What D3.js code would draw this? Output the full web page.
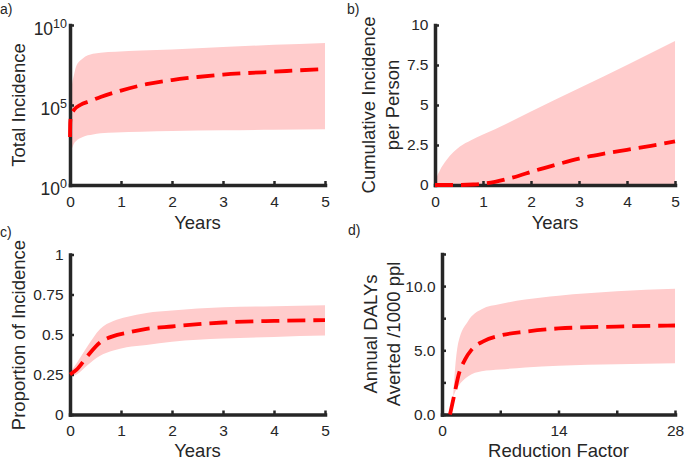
<!DOCTYPE html>
<html>
<head>
<meta charset="utf-8">
<script src="https://cdn.jsdelivr.net/npm/d3@7"></script>
<style>
  html, body { margin: 0; padding: 0; background: #fff; }
  svg { display: block; font-family: "Liberation Sans", Arial, sans-serif; }
</style>
</head>
<body>
<svg id="chart" width="685" height="462"></svg>
<script>
// ---------- DATA ----------
// Panel a: Total incidence (log10 values read from a log axis)
const aBandYears   = [0, 0.04, 0.08, 0.12, 0.25, 0.45, 0.6, 0.9, 1.4, 2, 3, 4, 5];
const aUpperLog10  = [5.2, 6.3, 6.9, 7.4, 7.9, 8.2, 8.27, 8.33, 8.4, 8.47, 8.62, 8.76, 8.88];
const aLowerLog10  = [2.0, 2.3, 2.6, 2.75, 3.0, 3.15, 3.23, 3.28, 3.33, 3.37, 3.42, 3.45, 3.48];
const aMeanYears   = [0, 0.005, 0.02, 0.08, 0.2, 0.4, 0.6, 1.0, 1.5, 2, 2.5, 3, 3.5, 4, 4.5, 5];
const aMeanLog10   = [3.0, 3.9, 4.3, 4.7, 5.0, 5.25, 5.5, 5.9, 6.3, 6.56, 6.75, 6.9, 7.0, 7.08, 7.17, 7.25];
const aYTickExps   = [0, 5, 10];

// Panel b: Cumulative incidence per person
const bBandYears = [0, 0.03, 0.1, 0.24, 0.52, 0.75, 1, 1.5, 2, 3, 4, 5];
const bUpper     = [0, 0.4, 0.9, 1.56, 2.4, 2.8, 3.15, 3.85, 4.6, 6.05, 7.5, 9.0];
const bLower     = [0, 0, 0, 0, 0, 0, 0, 0, 0, 0, 0, 0];
const bMeanYears = [0, 0.5, 0.8, 1, 1.25, 1.5, 1.75, 2, 2.5, 3, 3.5, 4, 4.5, 5];
const bMean      = [0, 0, 0.03, 0.08, 0.2, 0.38, 0.58, 0.82, 1.25, 1.65, 1.95, 2.2, 2.45, 2.72];
const bYTicks    = [0, 2.5, 5, 7.5, 10];

// Panel c: Proportion of incidence
const cYears = [0, 0.13, 0.33, 0.59, 0.85, 1.11, 1.5, 2, 3, 4, 5];
const cUpper = [0.26, 0.32, 0.42, 0.535, 0.585, 0.61, 0.635, 0.65, 0.67, 0.677, 0.683];
const cLower = [0.24, 0.25, 0.305, 0.367, 0.40, 0.42, 0.435, 0.455, 0.475, 0.485, 0.493];
const cMean  = [0.25, 0.28, 0.36, 0.45, 0.49, 0.51, 0.535, 0.55, 0.575, 0.585, 0.59];
const cYTicks = [0, 0.25, 0.5, 0.75, 1];

// Panel d: Annual DALYs averted per 1000 people vs reduction factor
const dBandFactor = [1.36, 1.6, 1.96, 3.16, 4.76, 7, 10, 14, 21, 28];
const dUpper      = [1.7, 3.8, 5.6, 7.3, 8.2, 8.6, 8.95, 9.25, 9.6, 9.8];
const dLower      = [1.4, 1.8, 2.2, 2.97, 3.36, 3.5, 3.66, 3.8, 3.92, 4.0];
const dMeanFactor = [0.96, 1.5, 1.96, 2.76, 3.56, 4.96, 7, 10, 14, 21, 28];
const dMean       = [0, 1.6, 3.0, 4.27, 5.05, 5.7, 6.15, 6.45, 6.7, 6.85, 6.93];
const dXTicks       = [0, 7, 14, 21, 28];
const dXTickLabels  = ["0", "", "14", "", "28"];
const dYTicks       = [0, 2.5, 5, 7.5, 10, 12.5];
const dYTickLabels  = ["0.0", "", "5.0", "", "10.0", ""];

const yearTicks = [0, 1, 2, 3, 4, 5];

// ---------- STYLE ----------
const INK = "#262626";
const BAND = "#ffcccc";
const LINE = "#ff0000";
const svg = d3.select("#chart");

function styleAxis(g) {
  g.select(".domain").attr("stroke", INK).attr("stroke-width", 3.5).attr("stroke-linecap", "square");
  g.selectAll(".tick line").attr("stroke", INK).attr("stroke-width", 2.5);
  g.selectAll(".tick text").attr("fill", INK).style("font-size", "15.5px")
    .style("font-family", '"Liberation Sans", Arial, sans-serif');
}

function panel(opts) {
  const {x, y, bandX, upper, lower, meanX, mean, xTicks, xLabels, yTicks, yLabels, logY} = opts;
  const tr = v => logY ? Math.pow(10, v) : v;
  const band = bandX.map((t, i) => ({t, lo: tr(lower[i]), hi: tr(upper[i])}));
  const m = meanX.map((t, i) => ({t, v: tr(mean[i])}));

  svg.append("path").datum(band)
    .attr("fill", BAND)
    .attr("d", d3.area().x(d => x(d.t)).y0(d => y(d.lo)).y1(d => y(d.hi)).curve(d3.curveMonotoneX));

  const xa = svg.append("g").attr("transform", `translate(0,${y.range()[0]})`)
    .call(d3.axisBottom(x).tickValues(xTicks).tickFormat((d, i) => xLabels[i])
      .tickSizeInner(-4).tickSizeOuter(0).tickPadding(10.5));
  styleAxis(xa);

  const ya = svg.append("g").attr("transform", `translate(${x.range()[0]},0)`)
    .call(d3.axisLeft(y).tickValues(yTicks).tickFormat((d, i) => yLabels ? yLabels[i] : "")
      .tickSizeInner(-4).tickSizeOuter(0).tickPadding(6.5));
  styleAxis(ya);

  svg.append("path").datum(m)
    .attr("fill", "none").attr("stroke", LINE).attr("stroke-width", 3.8)
    .attr("stroke-dasharray", "18,8")
    .attr("d", d3.line().x(d => x(d.t)).y(d => y(d.v)).curve(d3.curveMonotoneX));
  return ya;
}

function text(x, y, s, size, anchor, rotate) {
  const t = svg.append("text").attr("fill", INK).style("font-size", size + "px")
    .attr("text-anchor", anchor || "start").text(s);
  if (rotate) t.attr("transform", `translate(${x},${y}) rotate(-90)`);
  else t.attr("x", x).attr("y", y);
  return t;
}

// ---------- PANEL A ----------
const ax = d3.scaleLinear().domain([0, 5]).range([70, 325]);
const ay = d3.scaleLog().domain([1, 1e10]).range([185, 25]);
panel({x: ax, y: ay, bandX: aBandYears, upper: aUpperLog10, lower: aLowerLog10,
  meanX: aMeanYears, mean: aMeanLog10, xTicks: yearTicks, xLabels: yearTicks.map(String),
  yTicks: aYTickExps.map(e => Math.pow(10, e)), yLabels: null, logY: true});
aYTickExps.forEach(e => {
  const ty = ay(Math.pow(10, e));
  const t = svg.append("text").attr("x", 67).attr("y", ty + 10).attr("text-anchor", "end").attr("fill", INK);
  t.append("tspan").style("font-size", "17.5px").text("10");
  t.append("tspan").style("font-size", "12.5px").attr("dy", -7).text(String(e));
});
text(197.5, 229, "Years", 18.5, "middle");
text(25, 105, "Total Incidence", 18.5, "middle", true);
text(0, 14, "a)", 14, "start");

// ---------- PANEL B ----------
const bx = d3.scaleLinear().domain([0, 5]).range([435, 675]);
const by = d3.scaleLinear().domain([0, 10]).range([185, 25]);
panel({x: bx, y: by, bandX: bBandYears, upper: bUpper, lower: bLower,
  meanX: bMeanYears, mean: bMean, xTicks: yearTicks, xLabels: yearTicks.map(String),
  yTicks: bYTicks, yLabels: bYTicks.map(String)});
text(555, 229, "Years", 18.5, "middle");
text(375, 105, "Cumulative Incidence", 18.5, "middle", true);
text(399, 105, "per Person", 18.5, "middle", true);
text(347, 14, "b)", 14, "start");

// ---------- PANEL C ----------
const cx = d3.scaleLinear().domain([0, 5]).range([70, 325]);
const cy = d3.scaleLinear().domain([0, 1]).range([414.5, 254.5]);
panel({x: cx, y: cy, bandX: cYears, upper: cUpper, lower: cLower,
  meanX: cYears, mean: cMean, xTicks: yearTicks, xLabels: yearTicks.map(String),
  yTicks: cYTicks, yLabels: cYTicks.map(String)});
text(197.5, 456.5, "Years", 18.5, "middle");
text(25, 335, "Proportion of Incidence", 18.5, "middle", true);
text(0, 237, "c)", 14, "start");

// ---------- PANEL D ----------
const dx = d3.scaleLinear().domain([0, 28]).range([442, 675]);
const dy = d3.scaleLinear().domain([0, 12.5]).range([414.5, 254]);
panel({x: dx, y: dy, bandX: dBandFactor, upper: dUpper, lower: dLower,
  meanX: dMeanFactor, mean: dMean, xTicks: dXTicks, xLabels: dXTickLabels,
  yTicks: dYTicks, yLabels: dYTickLabels});
text(558.5, 456.5, "Reduction Factor", 18.5, "middle");
text(376.5, 334, "Annual DALYs", 18.5, "middle", true);
text(399.5, 334, "Averted /1000 ppl", 18.5, "middle", true);
text(348, 235, "d)", 14, "start");
</script>
</body>
</html>
